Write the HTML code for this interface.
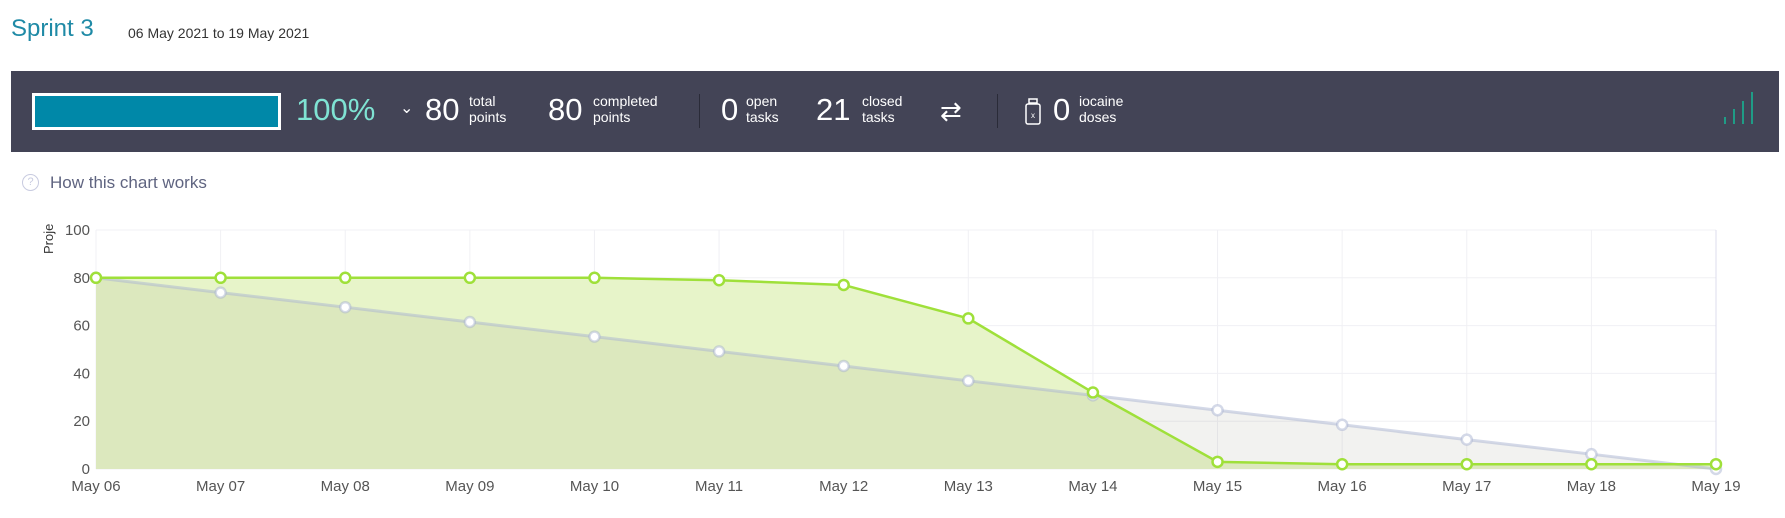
<!DOCTYPE html>
<html><head><meta charset="utf-8">
<style>
body{margin:0;width:1785px;height:518px;background:#fff;font-family:"Liberation Sans Narrow","Liberation Sans",sans-serif;position:relative;overflow:hidden}
.abs{position:absolute;white-space:nowrap}
.bar{position:absolute;left:11px;top:71px;width:1768px;height:81px;background:#434456}
.big{position:absolute;color:#fff;font-size:31px;top:93px;line-height:34px}
.lbl{position:absolute;color:#fff;font-size:14px;line-height:16px;top:93px}
.sep{position:absolute;top:94px;width:1px;height:34px;background:#2a2b38}
</style></head><body>
<div class="abs" style="left:11px;top:15px;font-size:24px;color:#1f8aa6">Sprint 3</div>
<div class="abs" style="left:128px;top:25px;font-size:14px;color:#333">06 May 2021 to 19 May 2021</div>
<div class="bar"></div>
<div class="abs" style="left:32px;top:93px;width:243px;height:31px;border:3px solid #fff;background:#0088a8"></div>
<div class="big" style="left:296px;color:#7fe3d3">100%</div>
<div class="abs" style="left:400px;top:98px;color:#fff;font-size:16px">&#8964;</div>
<div class="big" style="left:425px">80</div>
<div class="lbl" style="left:469px">total<br>points</div>
<div class="big" style="left:548px">80</div>
<div class="lbl" style="left:593px">completed<br>points</div>
<div class="sep" style="left:699px"></div>
<div class="big" style="left:721px">0</div>
<div class="lbl" style="left:746px">open<br>tasks</div>
<div class="big" style="left:816px">21</div>
<div class="lbl" style="left:862px">closed<br>tasks</div>
<div class="abs" style="left:940px;top:96px;color:#fff;font-size:26px">&#8644;</div>
<div class="sep" style="left:997px"></div>
<svg class="abs" style="left:1024px;top:98px" width="18" height="28"><rect x="5" y="1" width="8" height="4" fill="none" stroke="#fff" stroke-width="1.5"/><rect x="2" y="6" width="14" height="20" rx="2" fill="none" stroke="#fff" stroke-width="1.5"/><text x="9" y="20" fill="#fff" font-size="8" text-anchor="middle">x</text></svg>
<div class="big" style="left:1053px">0</div>
<div class="lbl" style="left:1079px">iocaine<br>doses</div>
<svg class="abs" style="left:1720px;top:90px" width="40" height="36"><g stroke="#1f9c86" stroke-width="2"><line x1="5" y1="34" x2="5" y2="27"/><line x1="14" y1="34" x2="14" y2="19"/><line x1="23" y1="34" x2="23" y2="11"/><line x1="32" y1="34" x2="32" y2="2"/></g></svg>
<div class="abs" style="left:22px;top:174px;width:15px;height:15px;border:1px solid #c8cbe0;border-radius:50%;color:#c8cbe0;font-size:11px;text-align:center;line-height:15px">?</div>
<div class="abs" style="left:50px;top:173px;font-size:17px;color:#5f6480">How this chart works</div>
<svg id="chart" class="abs" style="left:0;top:0" width="1785" height="518"></svg>
<script>
const categories=["May 06","May 07","May 08","May 09","May 10","May 11","May 12","May 13","May 14","May 15","May 16","May 17","May 18","May 19"];
const idealValues=[80,73.8,67.7,61.5,55.4,49.2,43.1,36.9,30.8,24.6,18.5,12.3,6.2,0];
const actualValues=[80,80,80,80,80,79,77,63,32,3,2,2,2,2];
const yTicks=[0,20,40,60,80,100];
const NS="http://www.w3.org/2000/svg";
const svg=document.getElementById('chart');
const L=96,R=1716,T=230,B=469;
const x=i=>L+(R-L)*i/(categories.length-1);
const y=v=>B-(B-T)*v/100;
function mk(t,a){const e=document.createElementNS(NS,t);for(const k in a)e.setAttribute(k,a[k]);svg.appendChild(e);return e;}
yTicks.forEach(v=>{const g=mk('line',{x1:L,x2:R,y1:y(v),y2:y(v),stroke:'#f0f0f4'});

const t=mk('text',{x:L-6,y:y(v)+5,'text-anchor':'end','font-size':15,fill:'#555'});t.textContent=v;
});
categories.forEach((c,i)=>{const g=mk('line',{x1:x(i),x2:x(i),y1:T,y2:B,stroke:i==categories.length-1?'#dcdcee':'#f0f0f4'});

const t=mk('text',{x:x(i),y:B+22,'text-anchor':'middle','font-size':15,fill:'#555'});t.textContent=c;
});
const yt=mk('text',{x:0,y:0,transform:`translate(53,${T+24}) rotate(-90)`,'font-size':13,fill:'#333'});yt.textContent='Proje';

function area(vals){return `M${x(0)},${B} `+vals.map((v,i)=>`L${x(i)},${y(v)}`).join(' ')+` L${x(vals.length-1)},${B} Z`;}
function line(vals){return vals.map((v,i)=>`${i?'L':'M'}${x(i)},${y(v)}`).join(' ');}
const aa=mk('path',{d:area(actualValues),fill:'#e7f4c9'});
const ia=mk('path',{d:area(idealValues),fill:'rgba(110,110,90,0.09)'});
const il=mk('path',{d:line(idealValues),fill:'none',stroke:'rgba(170,180,210,0.5)','stroke-width':3});
idealValues.forEach((v,i)=>{const c=mk('circle',{cx:x(i),cy:y(v),r:5,fill:'#fff',stroke:'rgba(170,180,210,0.5)','stroke-width':2.5});
});
const al=mk('path',{d:line(actualValues),fill:'none',stroke:'#9fe03a','stroke-width':2.5});
actualValues.forEach((v,i)=>{const c=mk('circle',{cx:x(i),cy:y(v),r:5,fill:'#fff',stroke:'#9fe03a','stroke-width':2.5});
});
</script>
</body></html>
